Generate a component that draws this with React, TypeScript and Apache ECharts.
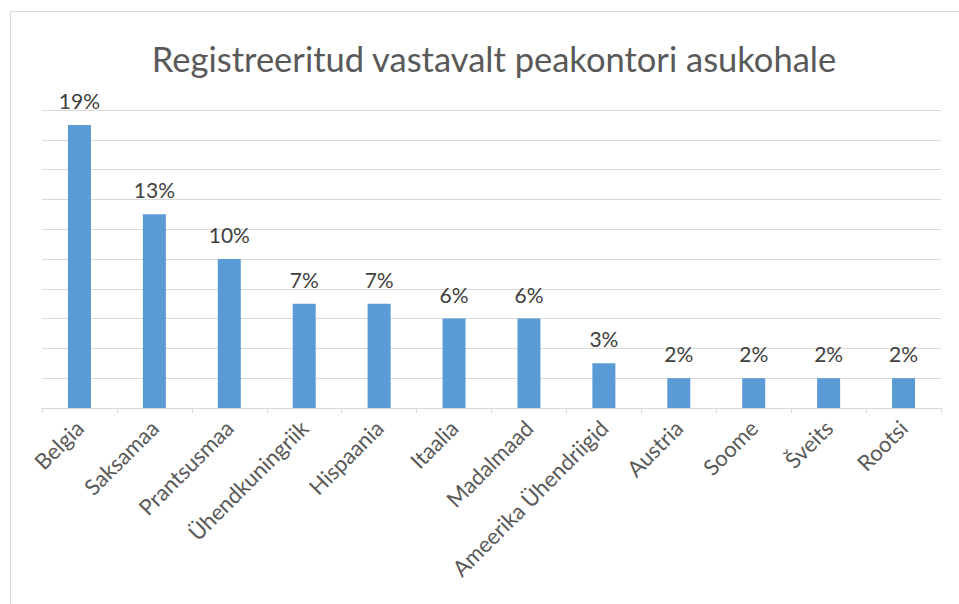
import React, { useEffect, useRef } from "react";
import * as echarts from "echarts";

const categories = [
  "Belgia",
  "Saksamaa",
  "Prantsusmaa",
  "Ühendkuningriik",
  "Hispaania",
  "Itaalia",
  "Madalmaad",
  "Ameerika Ühendriigid",
  "Austria",
  "Soome",
  "Šveits",
  "Rootsi",
];
const values = [19, 13, 10, 7, 7, 6, 6, 3, 2, 2, 2, 2];
const titleText = "Registreeritud vastavalt peakontori asukohale";

export default function App() {
  const ref = useRef<HTMLDivElement>(null);
  useEffect(() => {
    if (!ref.current) return;
    const chart = echarts.init(ref.current, null, { renderer: "svg" });
    const font = "Lato, 'Open Sans', sans-serif";
    chart.setOption({
      animation: false,
      backgroundColor: "#ffffff",
      title: {
        text: titleText,
        left: 489,
        top: 36,
        textAlign: "center",
        textStyle: {
          fontFamily: font,
          fontSize: 34.5,
          fontWeight: "normal",
          color: "#595959",
        },
      },
      graphic: [
        {
          type: "rect",
          shape: { x: 10.5, y: 11.5, width: 1000, height: 700 },
          style: { fill: "none", stroke: "#d9d9d9", lineWidth: 1 },
          silent: true,
        },
      ],
      grid: { left: 42, right: 18, top: 110, bottom: 196 },
      xAxis: {
        type: "category",
        data: categories,
        axisLine: { lineStyle: { color: "#d9d9d9", width: 1 } },
        axisTick: { show: true, length: 5, lineStyle: { color: "#d9d9d9" } },
        axisLabel: {
          rotate: 45,
          interval: 0,
          margin: 16,
          fontFamily: font,
          fontSize: 22,
          color: "#595959",
        },
      },
      yAxis: {
        type: "value",
        min: 0,
        max: 20,
        interval: 2,
        axisLabel: { show: false },
        axisLine: { show: false },
        axisTick: { show: false },
        splitLine: { lineStyle: { color: "#d9d9d9", width: 1 } },
      },
      series: [
        {
          type: "bar",
          data: values,
          barWidth: 23,
          itemStyle: { color: "#5b9bd5" },
          label: {
            show: true,
            position: "top",
            distance: 14,
            formatter: "{c}%",
            fontFamily: font,
            fontSize: 21,
            color: "#404040",
          },
        },
      ],
    });
    return () => chart.dispose();
  }, []);
  return (
    <div
      ref={ref}
      style={{ position: "fixed", left: 0, top: 0, width: 959, height: 604 }}
    />
  );
}
